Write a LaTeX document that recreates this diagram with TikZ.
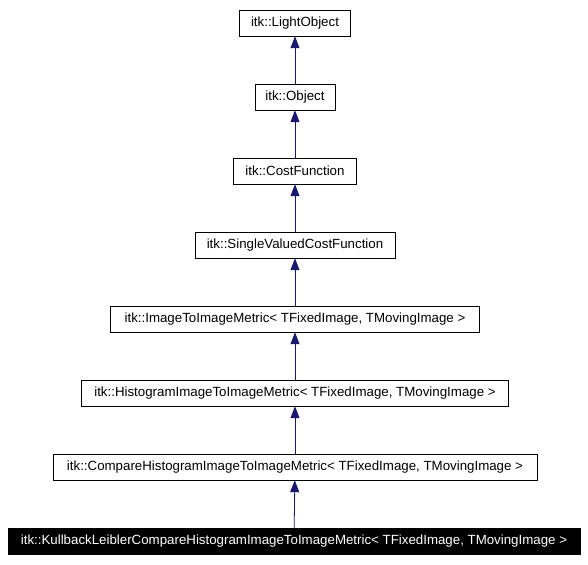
\documentclass[tikz,border=0pt]{standalone}
\usepackage{fontspec}
\setmainfont{Liberation Sans}
\usepackage{tikz}
\usetikzlibrary{arrows.meta}

\definecolor{edgeblue}{HTML}{191970}

\begin{document}
\begin{tikzpicture}[x=1pt,y=-1pt,>={Triangle[length=12pt,width=9pt]},
  cls/.style={draw,thin,minimum height=26pt,inner sep=0pt,font=\fontsize{13.3}{15}\selectfont},
  cur/.style={cls,fill=black,text=white},
  inh/.style={->,edgeblue,thick}]
\useasboundingbox (0,0) rectangle (588,564);
\node[cls,minimum width=111pt] (light) at (295,23) {itk::LightObject};
\node[cls,minimum width=80pt] (object) at (295,97) {itk::Object};
\node[cls,minimum width=123pt] (cost) at (295,171) {itk::CostFunction};
\node[cls,minimum width=200pt] (single) at (295,245) {itk::SingleValuedCostFunction};
\node[cls,minimum width=369pt] (metric) at (295,319) {itk::ImageToImageMetric< TFixedImage, TMovingImage >};
\node[cls,minimum width=427pt] (histo) at (295,393) {itk::HistogramImageToImageMetric< TFixedImage, TMovingImage >};
\node[cls,minimum width=484pt] (compare) at (295,467) {itk::CompareHistogramImageToImageMetric< TFixedImage, TMovingImage >};
\node[cur,minimum width=572pt] (kl) at (294,541) {itk::KullbackLeiblerCompareHistogramImageToImageMetric< TFixedImage, TMovingImage >};
% inheritance
\draw[inh] (object) -- (light);
\draw[inh] (cost) -- (object);
\draw[inh] (single) -- (cost);
\draw[inh] (metric) -- (single);
\draw[inh] (histo) -- (metric);
\draw[inh] (compare) -- (histo);
\draw[inh] (kl) -- (compare);
\end{tikzpicture}
\end{document}
